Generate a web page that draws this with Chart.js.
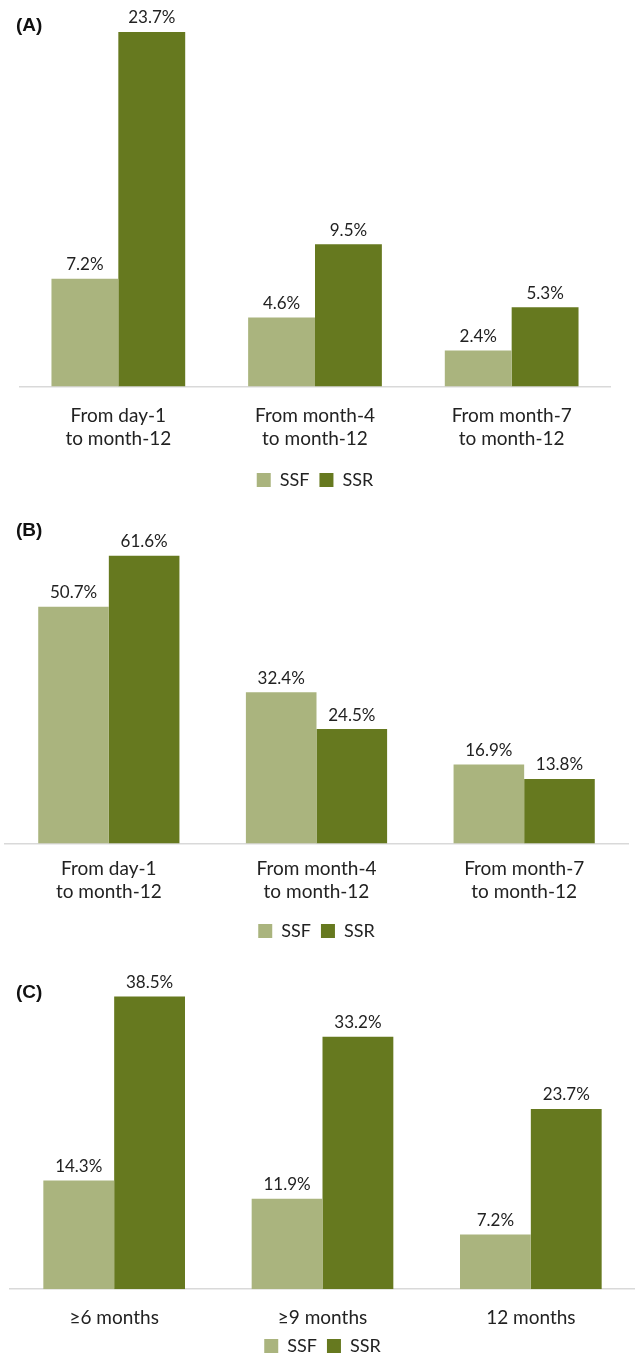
<!DOCTYPE html>
<html>
<head>
<meta charset="utf-8">
<script src="https://cdn.jsdelivr.net/npm/chart.js@4.4.1/dist/chart.umd.min.js"></script>
<style>
  body { margin: 0; background: #fff; width: 635px; height: 1357px; position: relative; overflow: hidden; }
  .panel { position: absolute; left: 0; width: 635px; }
  .tag { position: absolute; left: 16px; font: bold 19px "Liberation Sans", Arial, sans-serif; color: #111; }
</style>
</head>
<body>
<div class="panel" style="top:0;height:500px"><canvas id="chartA" width="635" height="500"></canvas></div>
<div class="panel" style="top:500px;height:455px"><canvas id="chartB" width="635" height="455"></canvas></div>
<div class="panel" style="top:955px;height:420px"><canvas id="chartC" width="635" height="420"></canvas></div>
<div class="tag" style="top:14px">(A)</div>
<div class="tag" style="top:519px">(B)</div>
<div class="tag" style="top:981px">(C)</div>
<script>
const seriesNames = ['SSF', 'SSR'];
const seriesColors = ['#aab47e', '#66791f'];

const periodLabels = [
    ['From day-1', 'to month-12'],
    ['From month-4', 'to month-12'],
    ['From month-7', 'to month-12'],
];
const durationLabels = ['≥6 months', '≥9 months', '12 months'];

// (A)
const ssfA = [7.2, 4.6, 2.4];
const ssrA = [23.7, 9.5, 5.3];
// (B)
const ssfB = [50.7, 32.4, 16.9];
const ssrB = [61.6, 24.5, 13.8];
// (C)
const ssfC = [14.3, 11.9, 7.2];
const ssrC = [38.5, 33.2, 23.7];

const FONT = 'Lato, "Open Sans", sans-serif';

// percent labels above each bar
const valueLabels = {
    id: 'valueLabels',
    afterDatasetsDraw(chart) {
        const ctx = chart.ctx;
        ctx.save();
        ctx.font = '17px ' + FONT;
        ctx.fillStyle = '#222';
        ctx.textAlign = 'center';
        ctx.textBaseline = 'middle';
        chart.data.datasets.forEach((ds, i) => {
            chart.getDatasetMeta(i).data.forEach((bar, j) => {
                ctx.fillText(ds.data[j].toFixed(1) + '%', bar.x, bar.y - 14);
            });
        });
        ctx.restore();
    },
};

function makeChart(id, labels, ssf, ssr, o) {
    new Chart(document.getElementById(id), {
        type: 'bar',
        data: {
            labels,
            datasets: [ssf, ssr].map((d, i) => ({
                label: seriesNames[i],
                data: d,
                backgroundColor: seriesColors[i],
                borderWidth: 0,
                barPercentage: 1,
                categoryPercentage: 0.68,
            })),
        },
        options: {
            responsive: false,
            animation: false,
            layout: { padding: { left: o.left, right: o.right, top: o.top, bottom: o.bottom } },
            scales: {
                x: {
                    grid: { display: false, drawTicks: false },
                    border: { display: true, color: '#d9d9d9', width: 1.5 },
                    ticks: { color: '#222', padding: o.tickPad, maxRotation: 0,
                             font: { family: FONT, size: 19, lineHeight: 1.2 } },
                    afterFit(scale) { scale.height += o.gap; },
                },
                y: { display: false, min: 0, max: o.max },
            },
            plugins: {
                legend: {
                    position: 'bottom',
                    labels: { boxWidth: 14, boxHeight: 14, padding: 10, color: '#222',
                              font: { family: FONT, size: 18 } },
                },
                tooltip: { enabled: false },
            },
        },
        plugins: [valueLabels],
    });
}

makeChart('chartA', periodLabels, ssfA, ssrA,
    { left: 20, right: 25, top: 20, bottom: 1, max: 24.5, tickPad: 18, gap: -7 });
makeChart('chartB', periodLabels, ssfB, ssrB,
    { left: 5, right: 7, top: 40, bottom: 5, max: 65, tickPad: 14, gap: -5 });
makeChart('chartC', durationLabels, ssfC, ssrC,
    { left: 10, right: 0, top: 30, bottom: 10, max: 40, tickPad: 17, gap: -19 });
</script>
</body>
</html>
